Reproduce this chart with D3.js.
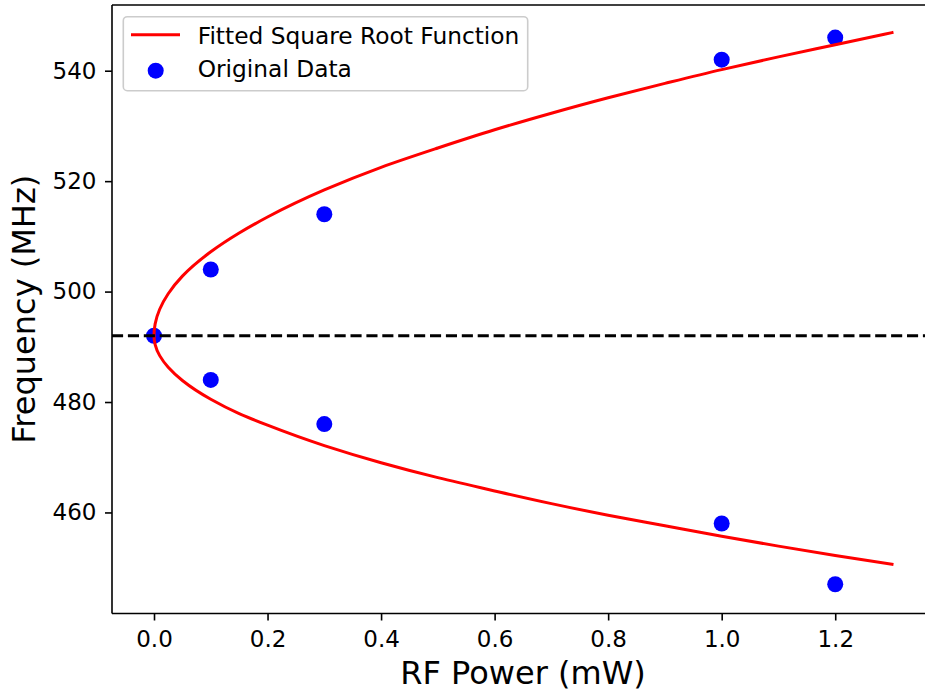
<!DOCTYPE html>
<html>
<head>
<meta charset="utf-8">
<script src="https://cdn.jsdelivr.net/npm/d3@7"></script>
<style>
  html, body { margin: 0; padding: 0; background: #fff; }
  svg { display: block; font-family: "DejaVu Sans", sans-serif; }
</style>
</head>
<body>
<svg id="chart" width="925" height="691"></svg>
<script>
// ---- Data ----
const powerPoints = [0.0, 0.1, 0.3, 1.0, 1.2, 0.1, 0.3, 1.0, 1.2];
const freqPoints  = [492, 504, 514, 542, 546, 484, 476, 458, 447];

// fitted square-root curve, sampled along the picture (upper and lower branches)
const curvePower = [0, 0.002, 0.01, 0.025, 0.05, 0.1, 0.15, 0.2, 0.3, 0.4, 0.5, 0.6, 0.7, 0.8, 0.9, 1.0, 1.1, 1.2, 1.3];
const curveUpper = [492, 494.15, 496.8, 499.6, 502.8, 507.2, 510.6, 513.5, 518.4, 522.5, 526.0, 529.3, 532.3, 535.1, 537.7, 540.2, 542.5, 544.7, 546.9];
const curveLower = [492, 490.4, 488.4, 486.3, 483.9, 480.5, 477.9, 475.8, 472.1, 469.0, 466.3, 463.9, 461.6, 459.5, 457.6, 455.7, 453.9, 452.2, 450.6];

const centerFreq = 492;
const xTicks = [0.0, 0.2, 0.4, 0.6, 0.8, 1.0, 1.2];
const yTicks = [460, 480, 500, 520, 540];
const xLabel = "RF Power (mW)";
const yLabel = "Frequency (MHz)";
const legendLabels = ["Fitted Square Root Function", "Original Data"];

// ---- Layout ----
const svg = d3.select("#chart");
const pLeft = 112, pRight = 934, pTop = 5, pBottom = 613.5;

const x = d3.scaleLinear().domain([-0.074, 1.374]).range([pLeft, pRight]);
const y = d3.scaleLinear().domain([441.7, 551.9]).range([pBottom, pTop]);

// scatter (drawn below lines, like matplotlib)
svg.append("g").selectAll("circle")
  .data(powerPoints.map((p, i) => [p, freqPoints[i]]))
  .join("circle")
  .attr("cx", d => x(d[0]))
  .attr("cy", d => y(d[1]))
  .attr("r", 8)
  .attr("fill", "#0000ff");

// fitted curve: lower branch reversed + upper branch, monotone in frequency
const curveData = [];
for (let i = curvePower.length - 1; i >= 1; i--) curveData.push([curvePower[i], curveLower[i]]);
for (let i = 0; i < curvePower.length; i++) curveData.push([curvePower[i], curveUpper[i]]);

svg.append("path")
  .datum(curveData)
  .attr("fill", "none")
  .attr("stroke", "#ff0000")
  .attr("stroke-width", 3)
  .attr("stroke-linecap", "square")
  .attr("d", d3.line().x(d => x(d[0])).y(d => y(d[1])).curve(d3.curveMonotoneY));

// dashed horizontal line
svg.append("line")
  .attr("x1", pLeft).attr("x2", pRight)
  .attr("y1", y(centerFreq)).attr("y2", y(centerFreq))
  .attr("stroke", "#000")
  .attr("stroke-width", 3)
  .attr("stroke-dasharray", "11.1,4.8");

// axes
const xAxis = svg.append("g")
  .attr("transform", `translate(0,${pBottom})`)
  .call(d3.axisBottom(x).tickValues(xTicks).tickFormat(d3.format(".1f")).tickSize(7).tickPadding(10.5).tickSizeOuter(0));
const yAxis = svg.append("g")
  .attr("transform", `translate(${pLeft},0)`)
  .call(d3.axisLeft(y).tickValues(yTicks).tickFormat(d3.format("d")).tickSize(7).tickPadding(8.5).tickSizeOuter(0));

[xAxis, yAxis].forEach(g => {
  g.select(".domain").remove();
  g.selectAll(".tick line").attr("stroke", "#000").attr("stroke-width", 1.6);
  g.selectAll(".tick text").attr("fill", "#000").style("font-size", "23px").style("font-family", "DejaVu Sans");
});

// spines
const spine = (x1, y1, x2, y2) => svg.append("line")
  .attr("x1", x1).attr("y1", y1).attr("x2", x2).attr("y2", y2)
  .attr("stroke", "#000").attr("stroke-width", 1.6);
spine(pLeft, pTop, pLeft, pBottom);
spine(pLeft, pBottom, pRight, pBottom);
spine(pLeft, pTop, pRight, pTop);
spine(pRight, pTop, pRight, pBottom);

// axis labels
svg.append("text")
  .attr("x", (pLeft + pRight) / 2).attr("y", 684.3)
  .attr("text-anchor", "middle")
  .style("font-size", "32px")
  .text(xLabel);
svg.append("text")
  .attr("transform", `translate(35,${(pTop + pBottom) / 2}) rotate(-90)`)
  .attr("text-anchor", "middle")
  .style("font-size", "32px")
  .text(yLabel);

// legend
const lg = svg.append("g");
lg.append("rect")
  .attr("x", 123.3).attr("y", 16.7).attr("width", 404.4).attr("height", 74)
  .attr("rx", 4).attr("ry", 4)
  .attr("fill", "#fff").attr("fill-opacity", 0.8)
  .attr("stroke", "#cccccc").attr("stroke-width", 1.6);
lg.append("line")
  .attr("x1", 131).attr("x2", 180).attr("y1", 34.7).attr("y2", 34.7)
  .attr("stroke", "#ff0000").attr("stroke-width", 3);
lg.append("circle")
  .attr("cx", 155.7).attr("cy", 70.7).attr("r", 8).attr("fill", "#0000ff");
lg.selectAll("text.lab")
  .data(legendLabels)
  .join("text")
  .attr("class", "lab")
  .attr("x", 197.7)
  .attr("y", (d, i) => i === 0 ? 44 : 77.3)
  .style("font-size", "23.3px")
  .text(d => d);
</script>
</body>
</html>
